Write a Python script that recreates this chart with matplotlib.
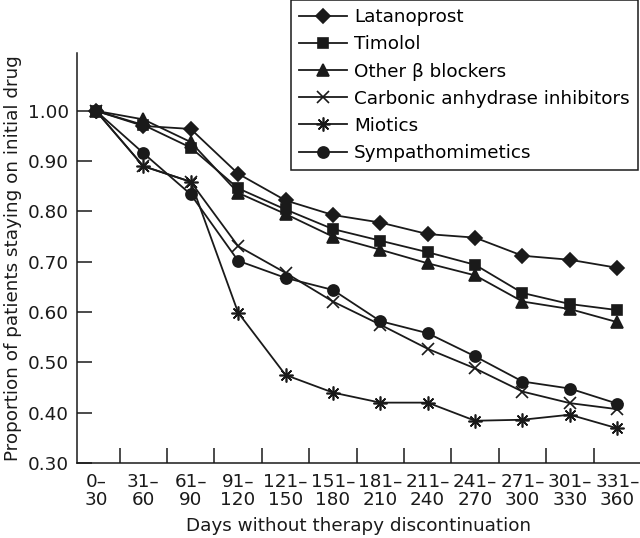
import matplotlib
matplotlib.use("Agg")
import matplotlib.pyplot as plt
from matplotlib.ticker import FixedLocator, FormatStrFormatter

# ---------------------------------------------------------
# Data
# ---------------------------------------------------------
periods = ["0–\n30", "31–\n60", "61–\n90", "91–\n120", "121–\n150", "151–\n180",
           "181–\n210", "211–\n240", "241–\n270", "271–\n300", "301–\n330", "331–\n360"]

latanoprost = [1.00, 0.970, 0.964, 0.875, 0.822, 0.793, 0.778, 0.755, 0.748, 0.712, 0.704, 0.688]
timolol = [1.00, 0.972, 0.927, 0.846, 0.804, 0.765, 0.742, 0.719, 0.694, 0.638, 0.616, 0.604]
other_beta = [1.00, 0.983, 0.938, 0.837, 0.795, 0.750, 0.724, 0.697, 0.673, 0.621, 0.606, 0.580]
carbonic = [1.00, 0.890, 0.859, 0.731, 0.678, 0.621, 0.575, 0.527, 0.488, 0.442, 0.419, 0.407]
miotics = [1.00, 0.890, 0.859, 0.599, 0.475, 0.440, 0.420, 0.420, 0.384, 0.386, 0.396, 0.369]
sympatho = [1.00, 0.916, 0.834, 0.702, 0.668, 0.644, 0.582, 0.558, 0.512, 0.462, 0.448, 0.418]

series = [
    ("Latanoprost", latanoprost, "D", 7),
    ("Timolol", timolol, "s", 7),
    ("Other β blockers", other_beta, "^", 8),
    ("Carbonic anhydrase inhibitors", carbonic, "x", 8),
    ("Miotics", miotics, (8, 2, 0), 10),
    ("Sympathomimetics", sympatho, "o", 8),
]

# ---------------------------------------------------------
# Figure
# ---------------------------------------------------------
plt.rcParams['font.family'] = ['DejaVu Sans']
plt.rcParams['font.size'] = 13.2
ink = "#1a1a1a"

fig = plt.figure(figsize=(6.4, 5.38), dpi=100)
ax = fig.add_axes([0.1203, 0.1394, 0.8797, 0.7621])

x = list(range(len(periods)))
for name, vals, mk, ms in series:
    ax.plot(x, vals, color=ink, linewidth=1.3, marker=mk, markersize=ms,
            markeredgewidth=1.2, markerfacecolor=ink, markeredgecolor=ink, label=name)

ax.set_xlim(-0.40, 11.48)
ax.set_ylim(0.30, 1.115)

for side in ("top", "right"):
    ax.spines[side].set_visible(False)
for side in ("left", "bottom"):
    ax.spines[side].set_linewidth(1.1)
    ax.spines[side].set_color(ink)

ax.set_xticks(x)
ax.set_xticklabels(periods, linespacing=1.0)
ax.xaxis.set_minor_locator(FixedLocator([i + 0.5 for i in range(11)]))
ax.tick_params(axis="x", which="major", length=0, pad=7, colors=ink)
ax.tick_params(axis="x", which="minor", direction="in", length=11, width=1.1, color=ink)

ax.set_yticks([0.30, 0.40, 0.50, 0.60, 0.70, 0.80, 0.90, 1.00])
ax.yaxis.set_major_formatter(FormatStrFormatter("%.2f"))
ax.tick_params(axis="y", direction="in", length=11, width=1.1, pad=6, colors=ink)

ax.set_xlabel("Days without therapy discontinuation", labelpad=6, color=ink)
ax.set_ylabel("Proportion of patients staying on initial drug", labelpad=4, color=ink)

leg = ax.legend(loc="upper right", bbox_to_anchor=(638 / 640, 1.0),
                bbox_transform=fig.transFigure, fancybox=False, framealpha=1,
                edgecolor=ink, borderaxespad=0, handlelength=2.6, handletextpad=0.4,
                labelspacing=0.5, borderpad=0.45)
leg.get_frame().set_linewidth(1.1)

fig.savefig("out.png", dpi=100)
